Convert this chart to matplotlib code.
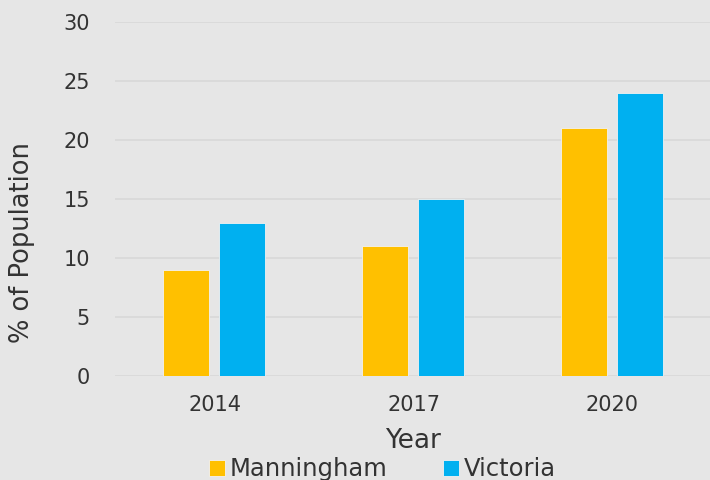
import numpy as np
import matplotlib.pyplot as plt

# data
years = ["2014", "2017", "2020"]
manningham = [9, 11, 21]
victoria = [13, 15, 24]

BG = "#E6E6E6"
GRID = "#D9D9D9"
TXT = "#333333"
ORANGE = "#FFC000"
BLUE = "#00B0F0"

plt.rcParams["font.family"] = ["DejaVu Sans"]

fig = plt.figure(figsize=(7.1, 4.8), dpi=100, facecolor=BG)
ax = fig.add_axes([0.162, 0.217, 0.838, 0.737], facecolor=BG)

x = np.arange(len(years))
w = 0.23
ax.bar(x - 0.145, manningham, w, color=ORANGE, edgecolor="#F2F2F2", linewidth=0.6,
       label="Manningham", zorder=3)
ax.bar(x + 0.14, victoria, w, color=BLUE, edgecolor="#F2F2F2", linewidth=0.6,
       label="Victoria", zorder=3)

ax.set_xlim(-0.5, 2.49)
ax.set_ylim(0, 30)
ax.set_yticks(range(0, 31, 5))
ax.set_xticks(x)
ax.set_xticklabels(years)
ax.yaxis.grid(True, color=GRID, linewidth=1.3, zorder=0)
ax.set_axisbelow(True)
for s in ax.spines.values():
    s.set_visible(False)
ax.tick_params(length=0, labelsize=15, colors=TXT)
ax.tick_params(axis="y", pad=18)
ax.tick_params(axis="x", pad=14)

ax.set_ylabel("% of Population", fontsize=18.5, color=TXT)
ax.yaxis.set_label_coords(-0.134, 0.378)
ax.set_xlabel("Year", fontsize=19, color=TXT)
ax.xaxis.set_label_coords(0.5, -0.148)

leg = fig.legend(loc="lower center", bbox_to_anchor=(0.539, -0.048), ncol=2, frameon=False,
                 fontsize=17.5, handlelength=0.65, handleheight=0.65, handletextpad=0.2,
                 columnspacing=2.3, labelcolor=TXT)

fig.savefig("out.png", dpi=100, facecolor=BG)
